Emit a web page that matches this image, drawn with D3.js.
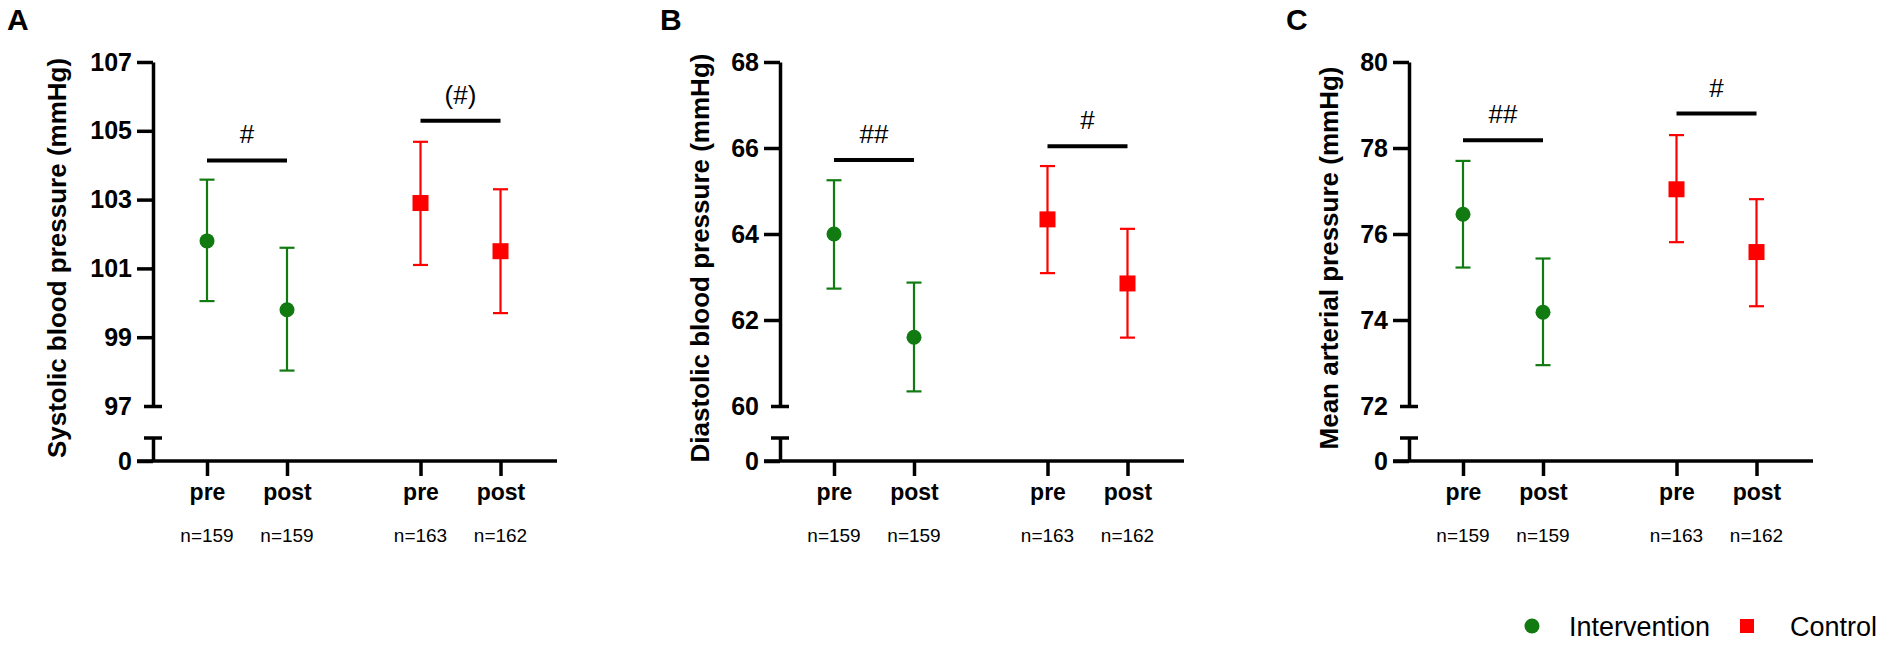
<!DOCTYPE html>
<html>
<head>
<meta charset="utf-8">
<script src="https://cdn.jsdelivr.net/npm/d3@7"></script>
<style>
  html, body { margin: 0; padding: 0; background: #fff; }
  svg { display: block; font-family: "Liberation Sans", Arial, sans-serif; }
</style>
</head>
<body>
<div id="chart"></div>
<script>
// data
const panelLetters = ["A", "B", "C"];
const yTitles = ["Systolic blood pressure (mmHg)", "Diastolic blood pressure (mmHg)", "Mean arterial pressure (mmHg)"];
const yTicks = [[97, 99, 101, 103, 105, 107], [60, 62, 64, 66, 68], [72, 74, 76, 78, 80]];
const groups = ["Intervention", "Control"];
const times = ["pre", "post"];
const nLabels = [["n=159", "n=159"], ["n=163", "n=162"]];

const interventionMean = [[101.8, 99.8], [64.0, 61.6], [76.46, 74.18]];
const interventionLow  = [[100.05, 98.03], [62.73, 60.34], [75.22, 72.95]];
const interventionHigh = [[103.58, 101.6], [65.25, 62.87], [77.7, 75.43]];
const controlMean = [[102.9, 101.5], [64.34, 62.85], [77.04, 75.58]];
const controlLow  = [[101.1, 99.7], [63.09, 61.59], [75.81, 74.32]];
const controlHigh = [[104.68, 103.3], [65.58, 64.12], [78.3, 76.81]];

const sigLabels = [["#", "(#)"], ["##", "#"], ["##", "#"]];
const sigLevels = [[104.14, 105.29], [65.72, 66.04], [78.18, 78.8]];

// layout
const W = 1890, H = 650;
const axisX = [153, 780, 1409];
const titleX = [66, 709, 1338];
const letterX = [7, 660, 1286];
const yTop = 62, yBreak = 406, yCap = 438, yZero = 461;
const green = "#117a11", red = "#ff0000";

const svg = d3.select("#chart").append("svg")
    .attr("width", W)
    .attr("height", H);

const gx = d3.scalePoint().domain(groups).range([94, 307.5]);
const tx = d3.scalePoint().domain(times).range([-40, 40]);
const xOf = (g, t) => gx(g) + tx(t);

panelLetters.forEach((letter, p) => {
    const ticks = yTicks[p];
    const y = d3.scaleLinear()
        .domain([d3.min(ticks), d3.max(ticks)])
        .range([yBreak, yTop]);
    const yLow = d3.scaleLinear().domain([0, 1]).range([yZero, yCap]);

    svg.append("text")
        .attr("x", letterX[p])
        .attr("y", 30)
        .attr("font-size", 30)
        .attr("font-weight", "bold")
        .text(letter);

    svg.append("text")
        .attr("transform", `translate(${titleX[p]},258) rotate(-90)`)
        .attr("text-anchor", "middle")
        .attr("font-size", 26)
        .attr("font-weight", "bold")
        .text(yTitles[p]);

    const g = svg.append("g").attr("transform", `translate(${axisX[p]},0)`);

    // upper y axis
    const ya = g.append("g")
        .call(d3.axisLeft(y).tickValues(ticks).tickFormat(d3.format("d"))
            .tickSize(16).tickSizeOuter(0).tickPadding(5));
    // lower segment (0)
    const yl = g.append("g")
        .call(d3.axisLeft(yLow).tickValues([0]).tickFormat(d3.format("d"))
            .tickSize(16).tickSizeOuter(0).tickPadding(5));

    [ya, yl].forEach(a => {
        a.select(".domain").attr("stroke", "#000").attr("stroke-width", 3.5);
        a.selectAll(".tick line").attr("stroke", "#000").attr("stroke-width", 3.5);
        a.selectAll(".tick text")
            .attr("font-size", 25)
            .attr("font-weight", "bold")
            .attr("fill", "#000")
            .attr("font-family", "Liberation Sans, Arial, sans-serif");
    });
    // break caps
    ya.selectAll(".tick").filter(d => d === d3.min(ticks)).select("line")
        .attr("x1", -9).attr("x2", 9);
    g.append("line")
        .attr("x1", -9).attr("x2", 9)
        .attr("y1", yLow(1)).attr("y2", yLow(1))
        .attr("stroke", "#000").attr("stroke-width", 3.5);

    // x axis
    const keys = [], pos = [];
    groups.forEach(gr => times.forEach(t => { keys.push(gr + "-" + t); pos.push(xOf(gr, t)); }));
    const xs = d3.scaleOrdinal().domain(keys).range(pos);
    const xa = g.append("g")
        .attr("transform", `translate(0,${yZero})`)
        .call(d3.axisBottom(xs).tickSize(15).tickPadding(8).tickFormat(k => k.split("-")[1]));
    xa.select(".domain").remove();
    xa.append("line")
        .attr("x1", -16).attr("x2", 404)
        .attr("stroke", "#000").attr("stroke-width", 3.5);
    xa.selectAll(".tick line").attr("stroke", "#000").attr("stroke-width", 3.5);
    xa.selectAll(".tick text")
        .attr("font-size", 23)
        .attr("font-weight", "bold")
        .attr("fill", "#000")
        .attr("font-family", "Liberation Sans, Arial, sans-serif");

    // n labels
    groups.forEach((gr, gi) => times.forEach((t, ti) => {
        g.append("text")
            .attr("x", xOf(gr, t))
            .attr("y", 542)
            .attr("text-anchor", "middle")
            .attr("font-size", 19)
            .text(nLabels[gi][ti]);
    }));

    // error bars + markers
    const series = [
        { group: "Intervention", color: green, mean: interventionMean[p], lo: interventionLow[p], hi: interventionHigh[p], shape: "circle" },
        { group: "Control", color: red, mean: controlMean[p], lo: controlLow[p], hi: controlHigh[p], shape: "square" }
    ];
    series.forEach(s => {
        const pts = times.map((t, i) => ({ x: xOf(s.group, t), m: s.mean[i], lo: s.lo[i], hi: s.hi[i] }));
        const eg = g.append("g").attr("stroke", s.color).attr("stroke-width", 2.2);
        eg.selectAll(".stem").data(pts).enter().append("line")
            .attr("x1", d => d.x).attr("x2", d => d.x)
            .attr("y1", d => y(d.lo)).attr("y2", d => y(d.hi));
        eg.selectAll(".capHi").data(pts).enter().append("line")
            .attr("x1", d => d.x - 7.5).attr("x2", d => d.x + 7.5)
            .attr("y1", d => y(d.hi)).attr("y2", d => y(d.hi));
        eg.selectAll(".capLo").data(pts).enter().append("line")
            .attr("x1", d => d.x - 7.5).attr("x2", d => d.x + 7.5)
            .attr("y1", d => y(d.lo)).attr("y2", d => y(d.lo));
        if (s.shape === "circle") {
            g.selectAll(null).data(pts).enter().append("circle")
                .attr("cx", d => d.x).attr("cy", d => y(d.m)).attr("r", 7.5)
                .attr("fill", s.color);
        } else {
            g.selectAll(null).data(pts).enter().append("rect")
                .attr("x", d => d.x - 8).attr("y", d => y(d.m) - 8)
                .attr("width", 16).attr("height", 16)
                .attr("fill", s.color);
        }
    });

    // significance bars
    groups.forEach((gr, gi) => {
        const lvl = y(sigLevels[p][gi]);
        g.append("line")
            .attr("x1", xOf(gr, "pre")).attr("x2", xOf(gr, "post"))
            .attr("y1", lvl).attr("y2", lvl)
            .attr("stroke", "#000").attr("stroke-width", 4);
        g.append("text")
            .attr("x", gx(gr))
            .attr("y", lvl - 17)
            .attr("text-anchor", "middle")
            .attr("font-size", 26)
            .text(sigLabels[p][gi]);
    });
});

// legend
const legend = svg.append("g").attr("font-size", 27);
legend.append("circle").attr("cx", 1532).attr("cy", 626).attr("r", 7.5).attr("fill", green);
legend.append("text").attr("x", 1569).attr("y", 636).text(groups[0]);
legend.append("rect").attr("x", 1740).attr("y", 619).attr("width", 14).attr("height", 14).attr("fill", red);
legend.append("text").attr("x", 1790).attr("y", 636).text(groups[1]);
</script>
</body>
</html>
